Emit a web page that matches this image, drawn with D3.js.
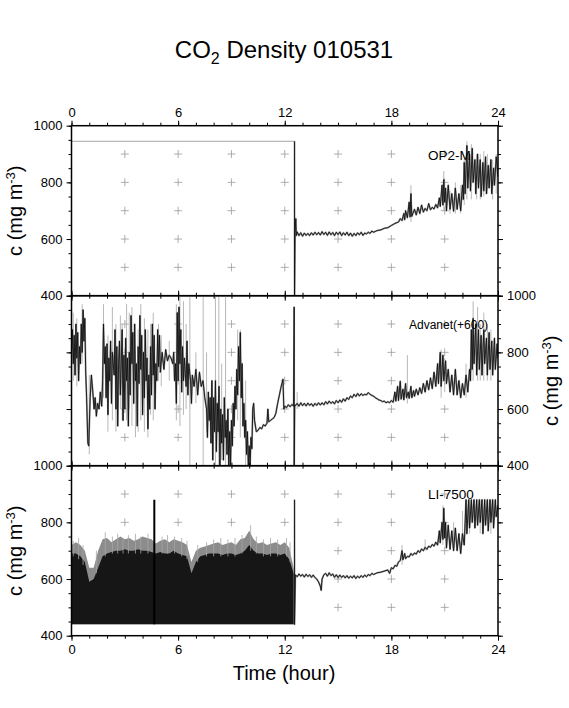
<!DOCTYPE html>
<html>
<head>
<meta charset="utf-8">
<script src="https://cdn.jsdelivr.net/npm/d3@7"></script>
<style>
  body { margin: 0; background: #fff; }
  text { font-family: "Liberation Sans", Arial, Helvetica, sans-serif; fill: #000; }
</style>
</head>
<body>
<div id="chart"></div>
<script>
// CO2 density, three sensors, 2001-05-31

// axis ticks and grid marks
const hourLabels = [0, 6, 12, 18, 24];
const hourMinor = d3.range(0, 25, 1);
const concLabels = [400, 600, 800, 1000];
const concMinor = d3.range(400, 1001, 50);
const gridHours = [3, 6, 9, 12, 15, 18, 21];
const gridConc = [500, 600, 700, 800, 900];

// OP2-M : flat fill value until 12.55 h, then real record
const op2Flat = [[0, 945], [12.55, 945]];
const op2Trace = [[12.55,945],[12.55,380],[12.58,620],[12.62,672],[12.65,612],[12.7,625],[12.8,612],[12.9,622],[13.0,610],[13.1,621],
  [13.2,613],[13.3,620],[13.4,612],[13.5,622],[13.6,614],[13.7,624],[13.8,615],[13.9,623],[14.0,614],[14.1,626],[14.2,616],[14.3,624],
  [14.4,613],[14.5,625],[14.6,615],[14.7,623],[14.8,612],[14.9,624],[15.0,616],[15.1,625],[15.2,612],[15.3,622],[15.4,614],[15.5,624],
  [15.6,612],[15.7,621],[15.8,610],[15.9,620],[16.0,612],[16.1,622],[16.2,615],[16.3,624],[16.4,613],[16.5,621],[16.6,618],[16.7,624],
  [16.8,620],[16.9,628],[17.0,624],[17.2,630],[17.4,632],[17.6,638],[17.8,640],[18.0,648],[18.2,655],[18.4,660],[18.5,672],[18.6,665],
  [18.7,690],[18.75,668],[18.8,700],[18.9,675],[19.0,730],[19.05,678],[19.1,760],[19.15,680],[19.3,705],[19.4,685],[19.5,712],[19.6,690],
  [19.7,720],[19.8,695],[19.9,708],[20.0,700],[20.1,725],[20.2,703],[20.3,712],[20.4,706],[20.5,722],[20.6,710],[20.7,745],[20.75,715],
  [20.85,790],[20.9,720],[20.95,810],[21.0,730],[21.05,780],[21.1,700],[21.2,790],[21.3,705],[21.4,760],[21.5,698],[21.6,780],[21.7,705],
  [21.8,760],[21.9,700],[22.0,790],[22.05,740],[22.1,870],[22.15,760],[22.25,930],[22.3,780],[22.4,900],[22.45,770],[22.55,920],[22.6,800],
  [22.7,880],[22.75,760],[22.85,900],[22.9,780],[23.0,880],[23.05,750],[23.15,870],[23.2,770],[23.3,890],[23.35,760],[23.45,860],[23.5,780],
  [23.6,880],[23.65,760],[23.75,850],[23.8,790],[23.9,890],[24.0,820]];
const op2Spikes = [[12.62,610,672],[19.1,660,790],[20.95,700,840],[21.6,690,800],[22.25,740,945],[22.5,740,935],[22.8,740,900],
  [23.0,740,900],[23.4,760,900],[23.7,740,880],[23.9,760,900],[21.3,690,770],[21.9,690,790],[22.1,720,880],[23.2,750,910]];

// Advanet, plotted with +600 offset
const advTrace = [[0,800],[0.05,880],[0.1,760],[0.15,860],[0.2,720],[0.25,900],[0.3,780],[0.35,870],[0.4,700],[0.45,820],[0.5,760],
  [0.55,900],[0.6,800],[0.65,950],[0.7,840],[0.75,920],[0.8,730],[0.85,640],[0.92,480],[0.97,470],[1.05,640],[1.12,720],[1.2,660],
  [1.27,600],[1.33,640],[1.4,575],[1.47,620],[1.55,600],[1.62,660],[1.7,610],[1.75,700],[1.8,900],[1.85,760],[1.9,820],[1.95,640],
  [2.0,830],[2.05,580],[2.1,780],[2.15,700],[2.2,840],[2.25,620],[2.3,800],[2.4,720],[2.45,880],[2.5,600],[2.55,820],[2.6,540],
  [2.65,760],[2.7,840],[2.75,650],[2.85,880],[2.9,560],[2.95,790],[3.0,600],[3.05,850],[3.1,700],[3.15,780],[3.2,540],[3.25,800],
  [3.3,650],[3.35,930],[3.4,760],[3.45,870],[3.5,620],[3.55,900],[3.6,700],[3.65,760],[3.7,540],[3.75,820],[3.8,690],[3.85,930],
  [3.9,740],[3.95,860],[4.0,580],[4.05,800],[4.1,640],[4.15,880],[4.2,700],[4.25,780],[4.3,530],[4.35,720],[4.4,600],[4.45,820],
  [4.5,650],[4.55,900],[4.6,720],[4.65,860],[4.7,600],[4.75,760],[4.8,700],[4.85,880],[4.9,750],[4.95,860],[5.0,730],[5.1,800],
  [5.2,740],[5.3,810],[5.4,770],[5.5,790],[5.6,780],[5.7,760],[5.75,800],[5.8,700],[5.85,760],[5.9,620],[5.95,940],[6.0,700],
  [6.05,960],[6.1,760],[6.15,880],[6.2,660],[6.25,820],[6.3,700],[6.35,780],[6.45,680],[6.5,840],[6.55,650],[6.6,760],[6.7,700],
  [6.75,620],[6.8,720],[6.9,680],[7.0,740],[7.1,650],[7.2,730],[7.3,680],[7.4,700],[7.5,640],[7.6,600],[7.65,500],[7.7,660],
  [7.75,560],[7.8,640],[7.85,480],[7.9,700],[7.95,420],[8.0,640],[8.05,520],[8.1,700],[8.15,450],[8.2,620],[8.25,520],[8.3,680],
  [8.35,400],[8.4,600],[8.45,480],[8.5,580],[8.55,420],[8.6,640],[8.65,500],[8.7,560],[8.75,440],[8.8,600],[8.85,400],[8.9,520],
  [8.95,400],[9.0,560],[9.05,470],[9.1,620],[9.15,540],[9.2,680],[9.25,600],[9.3,740],[9.35,650],[9.4,820],[9.45,700],[9.5,870],
  [9.55,640],[9.6,760],[9.65,540],[9.7,620],[9.75,500],[9.8,560],[9.85,440],[9.9,520],[9.95,400],[10.0,470],[10.05,400],[10.1,500],
  [10.15,460],[10.2,600],[10.25,620],[10.3,560],[10.35,540],[10.4,520],[10.5,525],[10.6,535],[10.7,530],[10.8,545],[10.9,540],
  [11.0,550],[11.05,600],[11.1,555],[11.2,560],[11.3,565],[11.4,570],[11.5,585],[11.6,620],[11.7,650],[11.8,680],[11.9,705],
  [11.95,600],[12.0,610],[12.1,605],[12.2,615],[12.3,608],[12.4,616],[12.5,610],[12.53,960],[12.53,380],[12.56,615],
  [12.6,612],[12.7,620],[12.8,610],[12.9,622],[13.0,612],[13.1,620],[13.2,611],[13.3,621],[13.4,613],[13.5,619],[13.6,610],[13.7,620],
  [13.8,613],[13.9,622],[14.0,614],[14.1,622],[14.2,615],[14.3,626],[14.4,618],[14.5,628],[14.6,620],[14.7,626],[14.8,618],[14.9,630],
  [15.0,622],[15.1,632],[15.2,624],[15.3,636],[15.4,628],[15.5,640],[15.6,634],[15.7,646],[15.8,640],[15.9,652],[16.0,644],[16.1,655],
  [16.2,646],[16.3,654],[16.4,648],[16.5,652],[16.6,650],[16.7,658],[16.8,652],[16.9,648],[17.0,645],[17.1,640],[17.2,636],[17.3,632],
  [17.4,630],[17.5,626],[17.6,628],[17.7,622],[17.8,626],[17.9,622],[18.0,630],[18.1,624],[18.2,660],[18.25,628],[18.35,680],[18.4,630],
  [18.5,698],[18.55,635],[18.65,670],[18.7,632],[18.8,690],[18.85,640],[18.95,660],[19.0,638],[19.1,680],[19.15,640],[19.25,665],
  [19.3,645],[19.4,670],[19.5,650],[19.6,675],[19.7,655],[19.8,690],[19.9,660],[20.0,700],[20.1,668],[20.2,710],[20.3,672],[20.4,730],
  [20.5,680],[20.6,760],[20.65,690],[20.75,800],[20.8,680],[20.9,790],[20.95,700],[21.05,770],[21.1,690],[21.2,740],[21.3,660],
  [21.4,720],[21.5,650],[21.6,740],[21.7,650],[21.8,700],[21.9,640],[22.0,690],[22.1,650],[22.2,720],[22.3,660],[22.4,740],[22.45,700],
  [22.5,880],[22.55,740],[22.6,920],[22.65,760],[22.75,900],[22.8,720],[22.9,880],[22.95,740],[23.05,860],[23.1,720],[23.2,880],
  [23.25,760],[23.35,850],[23.4,720],[23.5,870],[23.55,740],[23.65,840],[23.7,720],[23.8,850],[23.85,740],[23.95,830],[24.0,780]];
const advSpikes = [[0.1,700,940],[0.3,680,920],[0.6,760,970],[1.0,440,720],[1.8,640,970],[2.3,560,960],[2.5,520,900],[2.75,600,930],
  [3.1,560,970],[3.4,540,960],[3.6,500,900],[3.9,560,970],[4.1,520,920],[4.3,500,880],[4.6,560,940],[4.9,700,900],[5.9,560,970],
  [6.1,540,1000],[6.3,580,980],[6.66,400,1000],[7.0,620,800],[7.41,400,1000],[7.6,520,800],[8.1,400,1000],[8.29,400,1000],
  [8.67,400,1000],[9.5,500,880],[9.8,400,700],[12.7,600,660],[18.9,620,790],[20.8,640,810],[22.6,700,980],[22.85,700,960],
  [23.2,700,940],[23.6,700,880],[2.05,520,860],[2.85,560,900],[3.25,600,940],[3.75,520,880],[4.45,580,900],[5.05,680,860],
  [5.5,700,840],[6.45,600,900],[8.45,420,760],[9.35,560,880],[21.0,660,780],[22.2,640,760],[23.0,700,900],[23.4,700,900]];

// LI-7500 : noisy block before 12.55 h given as [hour, dark top, light top] over a 440 floor
const liFloor = 440;
const liEnvelope = [[0,690,720],[0.25,690,730],[0.5,680,720],[0.75,660,700],[1.0,590,640],[1.25,600,640],[1.5,640,700],
  [1.75,680,740],[2.0,690,745],[2.25,695,730],[2.5,700,740],[2.75,700,750],[3.0,705,740],[3.25,700,745],[3.5,700,735],
  [3.75,705,740],[4.0,700,750],[4.25,700,745],[4.5,695,740],[4.75,690,725],[5.0,695,735],[5.25,690,740],[5.5,690,730],
  [5.75,700,740],[6.0,690,735],[6.25,685,730],[6.5,680,720],[6.75,620,660],[7.0,660,700],[7.25,680,710],[7.5,685,715],
  [7.75,690,720],[8.0,690,725],[8.25,690,730],[8.5,685,720],[8.75,690,725],[9.0,690,730],[9.25,685,720],[9.5,690,740],
  [9.75,700,745],[10.0,720,770],[10.25,700,740],[10.5,690,725],[10.75,690,730],[11.0,685,720],[11.25,690,725],[11.5,690,730],
  [11.75,685,720],[12.0,690,730],[12.25,670,710],[12.5,620,640],[12.55,615,630]];
const liBursts = [[4.66,440,880]];
const liTrace = [[12.55,880],[12.55,440],[12.6,615],[12.7,608],[12.8,618],[12.9,610],[13.0,616],[13.1,607],[13.2,617],[13.3,609],
  [13.4,615],[13.5,606],[13.6,614],[13.7,605],[13.8,600],[13.9,590],[14.0,575],[14.05,560],[14.1,600],[14.2,615],[14.3,620],[14.4,610],
  [14.5,622],[14.6,612],[14.7,618],[14.8,606],[14.9,615],[15.0,605],[15.1,614],[15.2,606],[15.3,612],[15.4,604],[15.5,612],[15.6,603],
  [15.7,610],[15.8,604],[15.9,612],[16.0,602],[16.1,610],[16.2,604],[16.3,612],[16.4,606],[16.5,614],[16.6,608],[16.7,616],[16.8,612],
  [16.9,620],[17.0,616],[17.2,622],[17.4,624],[17.6,628],[17.8,632],[17.9,620],[18.0,640],[18.1,636],[18.2,648],[18.3,645],[18.4,660],
  [18.5,665],[18.6,700],[18.65,668],[18.75,690],[18.8,672],[18.9,680],[19.0,678],[19.1,690],[19.2,684],[19.3,692],[19.4,688],[19.5,700],
  [19.6,694],[19.7,706],[19.8,700],[19.9,712],[20.0,705],[20.1,716],[20.2,712],[20.3,722],[20.4,716],[20.5,730],[20.6,720],[20.7,770],
  [20.75,728],[20.85,800],[20.9,740],[20.95,850],[21.0,745],[21.05,800],[21.1,710],[21.2,790],[21.3,705],[21.4,770],[21.5,700],
  [21.6,780],[21.7,700],[21.8,760],[21.9,690],[22.0,760],[22.1,720],[22.2,880],[22.25,760],[22.35,880],[22.4,780],[22.5,880],
  [22.55,800],[22.65,880],[22.7,780],[22.8,880],[22.85,790],[22.95,880],[23.0,800],[23.1,880],[23.15,760],[23.25,880],[23.3,790],
  [23.4,880],[23.45,770],[23.55,880],[23.6,800],[23.7,880],[23.75,780],[23.85,880],[23.9,820],[24.0,860]];
const liSpikes = [[10.08,700,790],[18.6,650,720],[20.9,720,860],[22.4,760,880],[23.0,760,880],[23.6,760,880],
  [0.1,680,735],[0.4,670,745],[0.65,650,720],[1.4,620,700],[1.9,680,765],[2.3,690,750],[2.6,690,760],[2.9,690,745],
  [3.2,690,755],[3.6,690,760],[3.9,690,750],[4.3,690,760],[5.1,690,750],[5.4,690,755],[5.8,690,750],[6.2,680,745],
  [6.5,670,735],[7.1,660,720],[7.6,680,730],[8.0,680,740],[8.4,680,745],[8.8,680,740],[9.2,680,745],[9.6,690,755],
  [10.4,690,750],[10.8,680,740],[11.2,680,745],[11.6,680,740],[12.1,680,745],[12.3,660,730],[19.9,700,740],[21.5,700,800],
  [22.0,720,840]];

// layout
const width = 569, height = 708;
const left = 71.5, right = 498;
const panelTop = [125.7, 295.7, 465.7];
const panelH = 170;
const fontFamily = '"Liberation Sans", Arial, Helvetica, sans-serif';
const gridGrey = "#9a9a9a", traceGrey = "#a6a6a6";

const x = d3.scaleLinear().domain([0, 24]).range([left, right]);

const svg = d3.select("#chart")
  .append("svg")
  .attr("width", width)
  .attr("height", height);

// title with subscript
const title = svg.append("text")
  .attr("x", 284)
  .attr("y", 58)
  .attr("text-anchor", "middle")
  .style("font-size", "24px");
title.append("tspan").text("CO");
title.append("tspan").attr("dy", 6).style("font-size", "16px").text("2");
title.append("tspan").attr("dy", -6).text(" Density 010531");

const panels = [
  { name: "OP2-M", labelX: 428, labelY: 160, labelSize: 13.5, leftLabels: true, rightLabels: false, top: true, bottom: false,
    titleX: 22, flat: op2Flat, trace: op2Trace, spikes: op2Spikes },
  { name: "Advanet(+600)", labelX: 409, labelY: 329, labelSize: 12, leftLabels: false, rightLabels: true, top: false, bottom: false,
    titleX: 558, trace: advTrace, spikes: advSpikes },
  { name: "LI-7500", labelX: 428, labelY: 499, labelSize: 13.5, leftLabels: true, rightLabels: false, top: false, bottom: true,
    titleX: 22, envelope: liEnvelope, bursts: liBursts, trace: liTrace, spikes: liSpikes }
];

panels.forEach(function(p, i) {
  const y0 = panelTop[i];
  const y = d3.scaleLinear().domain([400, 1000]).range([y0 + panelH, y0]);
  const g = svg.append("g");
  const line = d3.line().x(d => x(d[0])).y(d => y(d[1]));

  svg.append("clipPath")
    .attr("id", "clip" + i)
    .append("rect")
    .attr("x", left).attr("y", y0)
    .attr("width", right - left).attr("height", panelH);

  // grey plus marks
  const grid = g.append("g").attr("stroke", gridGrey).attr("stroke-width", 0.8);
  gridHours.forEach(h => gridConc.forEach(c => {
    grid.append("path").attr("d", `M${x(h) - 4},${y(c)}H${x(h) + 4}M${x(h)},${y(c) - 4}V${y(c) + 4}`);
  }));

  const data = g.append("g").attr("clip-path", `url(#clip${i})`);

  if (p.flat) {
    data.append("path")
      .attr("d", line(p.flat))
      .attr("fill", "none").attr("stroke", traceGrey).attr("stroke-width", 1);
  }

  if (p.envelope) {
    data.append("path")
      .attr("d", d3.area().x(d => x(d[0])).y0(y(liFloor)).y1(d => y(d[2]))(p.envelope))
      .attr("fill", "#8c8c8c");
    data.append("path")
      .attr("d", d3.area().x(d => x(d[0])).y0(y(liFloor)).y1(d => y(d[1]))(p.envelope))
      .attr("fill", "#161616");
  }

  if (p.spikes) {
    data.append("g")
      .selectAll("line")
      .data(p.spikes)
      .join("line")
        .attr("x1", d => x(d[0])).attr("x2", d => x(d[0]))
        .attr("y1", d => y(d[1])).attr("y2", d => y(d[2]))
        .attr("stroke", traceGrey).attr("stroke-width", 0.8);
  }

  if (p.bursts) {
    data.append("g")
      .selectAll("line")
      .data(p.bursts)
      .join("line")
        .attr("x1", d => x(d[0])).attr("x2", d => x(d[0]))
        .attr("y1", d => y(d[1])).attr("y2", d => y(d[2]))
        .attr("stroke", "#000").attr("stroke-width", 2);
  }

  // grey halo under the trace, like the raw record behind the black one
  data.append("path")
    .attr("d", line(p.trace))
    .attr("fill", "none")
    .attr("stroke", "#9a9a9a")
    .attr("stroke-width", 1.8)
    .attr("stroke-linejoin", "round");

  data.append("path")
    .attr("d", line(p.trace))
    .attr("fill", "none")
    .attr("stroke", "#111")
    .attr("stroke-width", 0.9)
    .attr("stroke-linejoin", "round");

  // ticks on all four sides, labels only where the figure has them
  const axes = [
    { gen: d3.axisLeft, scale: y, t: `translate(${left},0)`, major: concLabels, minor: concMinor, show: p.leftLabels },
    { gen: d3.axisRight, scale: y, t: `translate(${right},0)`, major: concLabels, minor: concMinor, show: p.rightLabels },
    { gen: d3.axisTop, scale: x, t: `translate(0,${y0})`, major: hourLabels, minor: hourMinor, show: p.top },
    { gen: d3.axisBottom, scale: x, t: `translate(0,${y0 + panelH})`, major: hourLabels, minor: hourMinor, show: p.bottom }
  ];
  axes.forEach(function(a) {
    g.append("g")
      .attr("transform", a.t)
      .call(a.gen(a.scale).tickValues(a.minor).tickSize(3).tickFormat(""))
      .call(s => s.select(".domain").remove());
    g.append("g")
      .attr("transform", a.t)
      .call(a.gen(a.scale).tickValues(a.major).tickSize(5).tickPadding(4).tickFormat(a.show ? d3.format("d") : ""))
      .call(s => s.select(".domain").remove())
      .call(s => s.selectAll("text").style("font-size", "13px").style("font-family", fontFamily));
  });

  // frame
  g.append("rect")
    .attr("x", left).attr("y", y0)
    .attr("width", right - left).attr("height", panelH)
    .attr("fill", "none").attr("stroke", "#000").attr("stroke-width", 1.5);

  // sensor name
  g.append("text")
    .attr("x", p.labelX).attr("y", p.labelY)
    .style("font-size", p.labelSize + "px")
    .text(p.name);

  // concentration axis title
  const lab = g.append("text")
    .attr("transform", `translate(${p.titleX},${y0 + panelH / 2}) rotate(-90)`)
    .attr("text-anchor", "middle")
    .style("font-size", "20px");
  lab.append("tspan").text("c (mg m");
  lab.append("tspan").attr("dy", -7).style("font-size", "13px").text("-3");
  lab.append("tspan").attr("dy", 7).text(")");
});

// time axis title
svg.append("text")
  .attr("x", 284)
  .attr("y", 680)
  .attr("text-anchor", "middle")
  .style("font-size", "20px")
  .text("Time (hour)");
</script>
</body>
</html>
